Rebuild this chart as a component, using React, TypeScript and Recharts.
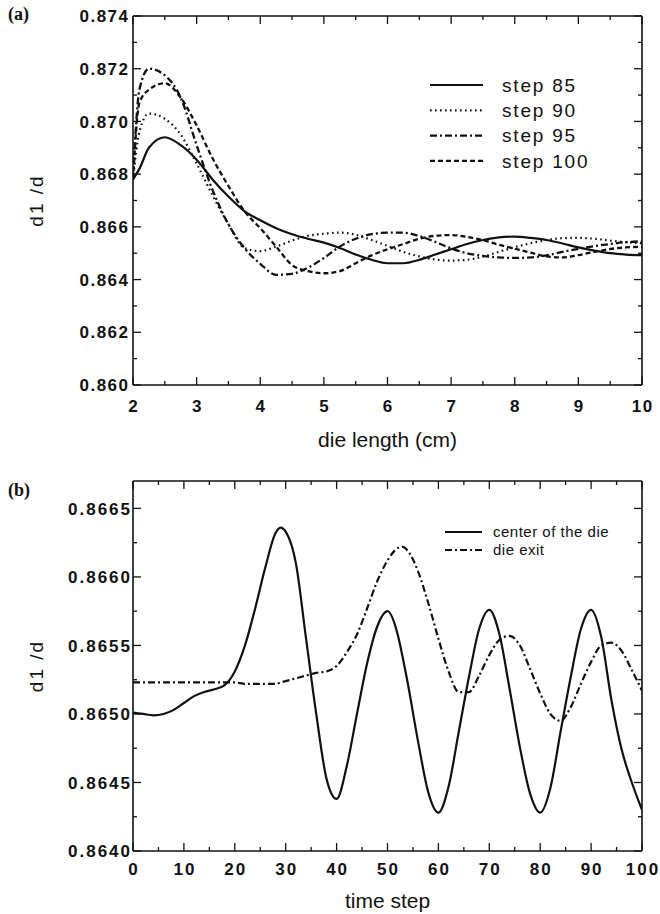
import { LineChart, Line, XAxis, YAxis, Legend } from "recharts";

// ---- panel (a): d1/d along the die for four time steps ----
const DIE_X = [
  2, 2.1, 2.25, 2.5, 2.75, 3, 3.25, 3.5, 3.75, 4, 4.25, 4.5, 4.75, 5, 5.25, 5.5,
  5.75, 6, 6.25, 6.5, 6.75, 7, 7.25, 7.5, 7.75, 8, 8.25, 8.5, 8.75, 9, 9.25,
  9.5, 9.75, 10,
];
const STEP_85 = [
  0.8678, 0.8682, 0.869, 0.8694, 0.8691, 0.86855, 0.8678, 0.86715, 0.8666,
  0.86625, 0.86595, 0.86572, 0.86555, 0.8654, 0.8652, 0.86495, 0.86475,
  0.86462, 0.86462, 0.86475, 0.86495, 0.86515, 0.86535, 0.8655, 0.8656,
  0.86563, 0.86558, 0.8655, 0.86537, 0.86522, 0.8651, 0.865, 0.86495, 0.86493,
];
const STEP_90 = [
  0.8678, 0.8696, 0.8703, 0.8701, 0.8695, 0.8684, 0.8672, 0.8661, 0.8652,
  0.86508, 0.86525, 0.86548, 0.86566, 0.86574, 0.86578, 0.8657, 0.8655,
  0.86528, 0.86505, 0.86488, 0.86476, 0.86472, 0.86475, 0.86487, 0.86505,
  0.86523, 0.86538, 0.8655, 0.86557, 0.86558, 0.86555, 0.86548, 0.86542,
  0.86538,
];
const STEP_95 = [
  0.8678, 0.8712, 0.872, 0.87175, 0.8709, 0.8691, 0.8674, 0.8661, 0.8652,
  0.8646, 0.86418, 0.86422, 0.86445, 0.86482, 0.86525, 0.86555, 0.86572,
  0.86578, 0.86578, 0.86565, 0.86543, 0.86518, 0.865, 0.8649, 0.86484,
  0.86482, 0.86484, 0.86492, 0.86505, 0.86517, 0.86527, 0.86535, 0.86542,
  0.86545,
];
const STEP_100 = [
  0.8678, 0.8707, 0.8712, 0.87145, 0.8709, 0.86985, 0.8686, 0.86755, 0.8666,
  0.86595, 0.86525, 0.86455, 0.86432, 0.86424, 0.86432, 0.86462, 0.86492,
  0.86515, 0.86535, 0.86555, 0.86566, 0.86569, 0.86562, 0.8655, 0.86532,
  0.86517, 0.86502, 0.86488, 0.86484, 0.86493, 0.86505, 0.86516, 0.86522,
  0.86525,
];
const A_X_TICKS = [2, 2.5, 3, 3.5, 4, 4.5, 5, 5.5, 6, 6.5, 7, 7.5, 8, 8.5, 9, 9.5, 10];
const A_Y_TICKS = [
  0.86, 0.861, 0.862, 0.863, 0.864, 0.865, 0.866, 0.867, 0.868, 0.869, 0.87,
  0.871, 0.872, 0.873, 0.874,
];

// ---- panel (b): d1/d over time at two positions ----
const TIME = [
  0, 2, 4, 6, 8, 10, 12, 14, 16, 18, 20, 22, 24, 26, 28, 29, 30, 32, 34, 36, 38,
  40, 42, 44, 46, 48, 50, 52, 53, 54, 56, 58, 60, 62, 64, 66, 68, 70, 72, 74,
  76, 78, 80, 82, 84, 86, 88, 90, 92, 94, 96, 98, 100,
];
const CENTER = [
  0.86501, 0.865, 0.86499, 0.865, 0.86503, 0.86508, 0.86513, 0.86516, 0.86518,
  0.86521, 0.86531, 0.8655, 0.86577, 0.86607, 0.86632, 0.86636, 0.86633,
  0.8661, 0.86555, 0.865, 0.86453, 0.86438, 0.86462, 0.865, 0.86537, 0.86564,
  0.86575, 0.86558, 0.86541, 0.86522, 0.8648, 0.86443, 0.86428, 0.86447,
  0.86487, 0.86527, 0.86562, 0.86576, 0.86558, 0.86518, 0.86476, 0.86442,
  0.86428, 0.86446, 0.86487, 0.86527, 0.86562, 0.86576, 0.86556, 0.8651,
  0.86474, 0.8645, 0.8643,
];
const EXIT = [
  0.86523, 0.86523, 0.86523, 0.86523, 0.86523, 0.86523, 0.86523, 0.86523,
  0.86523, 0.86523, 0.86523, 0.86522, 0.86522, 0.86522, 0.86522, 0.86523,
  0.86524, 0.86526, 0.86528, 0.8653, 0.86531, 0.86535, 0.86545, 0.86558,
  0.86577, 0.86597, 0.86612, 0.86621, 0.86622, 0.86619, 0.86604, 0.86581,
  0.86555, 0.86531, 0.86516, 0.86516, 0.86528, 0.86543, 0.86554, 0.86557,
  0.8655, 0.86533, 0.86515, 0.865, 0.86495, 0.86505, 0.86522, 0.86538,
  0.8655, 0.86552, 0.86546, 0.86532, 0.86517,
];
const B_X_TICKS = [0, 5, 10, 15, 20, 25, 30, 35, 40, 45, 50, 55, 60, 65, 70, 75, 80, 85, 90, 95, 100];
const B_Y_TICKS = [
  0.864, 0.86425, 0.8645, 0.86475, 0.865, 0.86525, 0.8655, 0.86575, 0.866,
  0.86625, 0.8665,
];

const INK = "#111";
const FONT = "'Liberation Sans', Arial, Helvetica, sans-serif";

const SERIES_A = [
  { key: "s85", name: "step 85", dash: undefined as string | undefined, width: 2.2 },
  { key: "s90", name: "step 90", dash: "1.6 3.4", width: 2.2 },
  { key: "s95", name: "step 95", dash: "7 3 2 3", width: 2.3 },
  { key: "s100", name: "step 100", dash: "5 3", width: 2.3 },
];
const SERIES_B = [
  { key: "center", name: "center of the die", dash: undefined as string | undefined, width: 2.2 },
  { key: "exit", name: "die exit", dash: "7 3 2 3", width: 2.2 },
];

const dataA = DIE_X.map((x, i) => ({
  x,
  s85: STEP_85[i],
  s90: STEP_90[i],
  s95: STEP_95[i],
  s100: STEP_100[i],
}));
const dataB = TIME.map((t, i) => ({ t, center: CENTER[i], exit: EXIT[i] }));

type Side = "left" | "right" | "top" | "bottom";

// inward tick marks (long on labelled values), labels only on left/bottom
function makeTick(side: Side, majorStep: number, digits: number, off: number, spacing: number) {
  return (p: any) => {
    const v = Number(p.payload.value);
    const major = Math.abs(v / majorStep - Math.round(v / majorStep)) < 1e-6;
    const len = major ? 8 : 4;
    const { x, y } = p;
    const ln = { stroke: INK, strokeWidth: 1.3 };
    const txt = {
      fill: INK,
      fontSize: 17,
      fontWeight: "bold" as const,
      fontFamily: FONT,
      letterSpacing: spacing,
    };
    if (side === "left")
      return (
        <g>
          <line x1={x} x2={x + len} y1={y} y2={y} {...ln} />
          {major && (
            <text x={x - off + spacing} y={y} dy="0.36em" textAnchor="end" {...txt}>
              {v.toFixed(digits)}
            </text>
          )}
        </g>
      );
    if (side === "bottom")
      return (
        <g>
          <line x1={x} x2={x} y1={y} y2={y - len} {...ln} />
          {major && (
            <text x={x + spacing / 2} y={y + off} textAnchor="middle" {...txt}>
              {v.toFixed(digits)}
            </text>
          )}
        </g>
      );
    if (side === "top") return <line x1={x} x2={x} y1={y} y2={y + len} {...ln} />;
    return <line x1={x} x2={x - len} y1={y} y2={y} {...ln} />;
  };
}

function yTitle(text: string) {
  return (props: any) => {
    const vb = props.viewBox;
    const cy = vb.y + vb.height / 2;
    return (
      <text
        transform={`translate(36, ${cy}) rotate(-90)`}
        textAnchor="middle"
        dy="0.36em"
        fill={INK}
        fontSize={19}
        fontFamily={FONT}
        letterSpacing={2}
      >
        {text}
      </text>
    );
  };
}

function legendBox(
  items: { name: string; dash?: string; width: number }[],
  lineW: number,
  textX: number,
  rowH: number,
  fontSize: number,
  spacing: number
) {
  return () => (
    <svg width={220} height={items.length * rowH + 8} style={{ display: "block" }}>
      {items.map((s, i) => {
        const cy = 12 + i * rowH;
        return (
          <g key={s.name}>
            <line
              x1={2}
              x2={2 + lineW}
              y1={cy}
              y2={cy}
              stroke={INK}
              strokeWidth={s.width}
              strokeDasharray={s.dash}
            />
            <text
              x={textX}
              y={cy}
              dy="0.36em"
              fill={INK}
              fontSize={fontSize}
              fontFamily={FONT}
              letterSpacing={spacing}
            >
              {s.name}
            </text>
          </g>
        );
      })}
    </svg>
  );
}

const panelLabel = (top: number): React.CSSProperties => ({
  position: "absolute",
  left: 8,
  top,
  fontFamily: "'Liberation Serif', 'Times New Roman', serif",
  fontWeight: "bold",
  fontSize: 18,
  color: INK,
});

const frame = { stroke: INK, strokeWidth: 1.6 };

export default function App() {
  return (
    <div
      style={{
        position: "absolute",
        left: 0,
        top: 0,
        width: 660,
        height: 914,
        background: "#fff",
      }}
    >
      <div style={panelLabel(4)}>(a)</div>
      <div style={{ position: "absolute", left: 0, top: 0 }}>
        <LineChart width={660} height={460} data={dataA} margin={{ top: 15, right: 17, bottom: 0, left: 0 }}>
          <XAxis
            dataKey="x"
            type="number"
            domain={[2, 10]}
            allowDataOverflow
            ticks={A_X_TICKS}
            interval={0}
            height={75}
            tickSize={0}
            tickMargin={0}
            tickLine={false}
            axisLine={frame}
            tick={makeTick("bottom", 1, 0, 27, 1.5)}
            label={{
              value: "die length (cm)",
              position: "insideBottom",
              offset: 13,
              fill: INK,
              fontSize: 21,
              fontFamily: FONT,
            }}
          />
          <XAxis
            xAxisId="top"
            dataKey="x"
            orientation="top"
            type="number"
            domain={[2, 10]}
            allowDataOverflow
            ticks={A_X_TICKS}
            interval={0}
            height={1}
            tickSize={0}
            tickMargin={0}
            tickLine={false}
            axisLine={frame}
            tick={makeTick("top", 1, 0, 0, 0)}
          />
          <YAxis
            type="number"
            domain={[0.86, 0.874]}
            allowDataOverflow
            ticks={A_Y_TICKS}
            interval={0}
            width={133}
            tickSize={0}
            tickMargin={0}
            tickLine={false}
            axisLine={frame}
            tick={makeTick("left", 0.002, 3, 5, 1.5)}
            label={{ value: "d1 /d", content: yTitle("d1 /d") }}
          />
          <YAxis
            yAxisId="right"
            orientation="right"
            type="number"
            domain={[0.86, 0.874]}
            allowDataOverflow
            ticks={A_Y_TICKS}
            interval={0}
            width={1}
            tickSize={0}
            tickMargin={0}
            tickLine={false}
            axisLine={frame}
            tick={makeTick("right", 0.002, 3, 0, 0)}
          />
          <Legend
            layout="vertical"
            align="center"
            verticalAlign="middle"
            wrapperStyle={{ left: 428, top: 73, width: 220 }}
            content={legendBox(SERIES_A, 53, 74, 25.3, 19, 1.8)}
          />
          {SERIES_A.map((s) => (
            <Line
              key={s.key}
              dataKey={s.key}
              name={s.name}
              type="monotone"
              stroke={INK}
              strokeWidth={s.width}
              strokeDasharray={s.dash}
              dot={false}
              activeDot={false}
              isAnimationActive={false}
            />
          ))}
          {/* invisible copy so the top/right frame axes share the same scale */}
          <Line
            xAxisId="top"
            yAxisId="right"
            dataKey="s85"
            stroke="none"
            legendType="none"
            dot={false}
            activeDot={false}
            isAnimationActive={false}
          />
        </LineChart>
      </div>

      <div style={panelLabel(480)}>(b)</div>
      <div style={{ position: "absolute", left: 0, top: 470 }}>
        <LineChart width={660} height={444} data={dataB} margin={{ top: 10, right: 17, bottom: 0, left: 0 }}>
          <XAxis
            dataKey="t"
            type="number"
            domain={[0, 100]}
            allowDataOverflow
            ticks={B_X_TICKS}
            interval={0}
            height={63}
            tickSize={0}
            tickMargin={0}
            tickLine={false}
            axisLine={frame}
            tick={makeTick("bottom", 10, 0, 24, 2)}
            label={{
              value: "time step",
              position: "insideBottom",
              offset: 6,
              fill: INK,
              fontSize: 21,
              fontFamily: FONT,
            }}
          />
          <XAxis
            xAxisId="top"
            dataKey="t"
            orientation="top"
            type="number"
            domain={[0, 100]}
            allowDataOverflow
            ticks={B_X_TICKS}
            interval={0}
            height={1}
            tickSize={0}
            tickMargin={0}
            tickLine={false}
            axisLine={frame}
            tick={makeTick("top", 10, 0, 0, 0)}
          />
          <YAxis
            type="number"
            domain={[0.864, 0.8667]}
            allowDataOverflow
            ticks={B_Y_TICKS}
            interval={0}
            width={133}
            tickSize={0}
            tickMargin={0}
            tickLine={false}
            axisLine={frame}
            tick={makeTick("left", 0.0005, 4, 3, 2)}
            label={{ value: "d1 /d", content: yTitle("d1 /d") }}
          />
          <YAxis
            yAxisId="right"
            orientation="right"
            type="number"
            domain={[0.864, 0.8667]}
            allowDataOverflow
            ticks={B_Y_TICKS}
            interval={0}
            width={1}
            tickSize={0}
            tickMargin={0}
            tickLine={false}
            axisLine={frame}
            tick={makeTick("right", 0.0005, 4, 0, 0)}
          />
          <Legend
            layout="vertical"
            align="center"
            verticalAlign="middle"
            wrapperStyle={{ left: 443, top: 50, width: 220 }}
            content={legendBox(SERIES_B, 37, 50, 18, 15, 0.5)}
          />
          {SERIES_B.map((s) => (
            <Line
              key={s.key}
              dataKey={s.key}
              name={s.name}
              type="monotone"
              stroke={INK}
              strokeWidth={s.width}
              strokeDasharray={s.dash}
              dot={false}
              activeDot={false}
              isAnimationActive={false}
            />
          ))}
          <Line
            xAxisId="top"
            yAxisId="right"
            dataKey="center"
            stroke="none"
            legendType="none"
            dot={false}
            activeDot={false}
            isAnimationActive={false}
          />
        </LineChart>
      </div>
    </div>
  );
}
